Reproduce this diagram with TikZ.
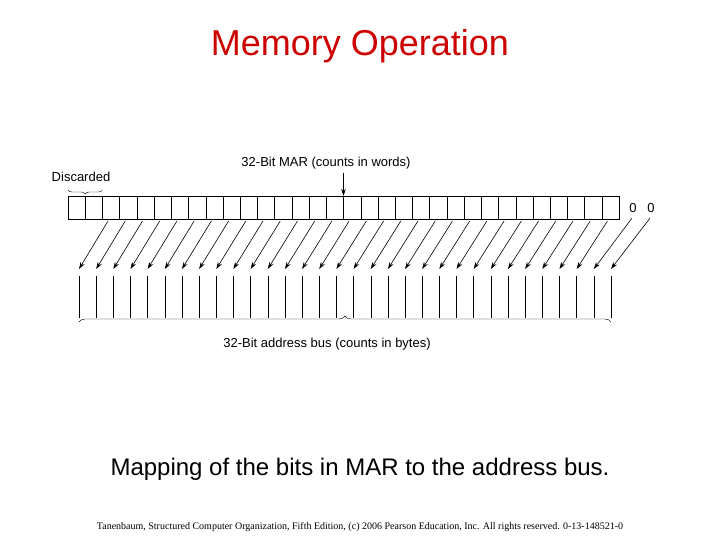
\documentclass[tikz,border=0pt]{standalone}
\usepackage{fontspec}
\setmainfont{Liberation Sans}
\newfontfamily\footfont{Liberation Serif}
\usetikzlibrary{positioning,decorations.pathreplacing,arrows.meta}
\definecolor{titlered}{RGB}{204,0,0}
\tikzset{
  cell/.style={draw, minimum width=17.22pt, minimum height=23pt, inner sep=0pt, outer sep=0pt},
  lbl/.style={font=\fontsize{13}{15}\selectfont},
  bitarrow/.style={-{Stealth[length=7pt,width=4.5pt]}, line width=0.6pt},
}
\begin{document}
\begin{tikzpicture}[x=1pt,y=-1pt]
  \useasboundingbox (0,0) rectangle (720,540);
  \node[titlered, font=\fontsize{36}{40}\selectfont] (title) at (360,46) {Memory Operation};
  % MAR register
  \foreach \i in {0,...,31}
    \node[cell] (c\i) at (76.6+17.22*\i,207.5) {};
  \node[lbl] (zeroa) at (633,208) {0};
  \node[lbl] (zerob) at (651,208) {0};
  % address bus lines
  \foreach \i in {0,...,31}{
    \coordinate (bt\i) at (79+17.16*\i,276);
    \coordinate (bb\i) at (79+17.16*\i,318);
    \draw (bt\i) -- (bb\i);
  }
  % mapping arrows
  \foreach \i in {0,...,29}{
    \pgfmathtruncatemacro\j{\i+2}
    \draw[bitarrow] ([xshift=-3pt,yshift=-2pt]c\j.south) -- ([yshift=7pt]bt\i);
  }
  \draw[bitarrow] ([xshift=-1pt,yshift=-2pt]zeroa.south) -- ([yshift=7pt]bt30);
  \draw[bitarrow] ([xshift=-1pt,yshift=-2pt]zerob.south) -- ([yshift=7pt]bt31);
  % labels and braces
  \node[lbl] (mar) at (326,163) {32-Bit MAR (counts in words)};
  \draw[bitarrow] (mar.south -| c15.east) -- (c15.north east);
  \draw[decorate, decoration={brace, mirror, amplitude=4pt}] ([yshift=6pt]c0.north west) -- ([yshift=6pt]c1.north east);
  \node[lbl] (disc) at (81,177) {Discarded};
  \draw[decorate, decoration={brace, amplitude=6pt}] ([yshift=-4pt]bb0) -- ([yshift=-4pt]bb31);
  \node[lbl] (bus) at (327,344) {32-Bit address bus (counts in bytes)};
  \node[font=\fontsize{24}{28}\selectfont] (caption) at (360,469) {Mapping of the bits in MAR to the address bus.};
  \node[font=\footfont\fontsize{10}{12}\selectfont] (foot) at (360,527) {Tanenbaum, Structured Computer Organization, Fifth Edition, (c) 2006 Pearson Education, Inc. All rights reserved. 0-13-148521-0};
\end{tikzpicture}
\end{document}
